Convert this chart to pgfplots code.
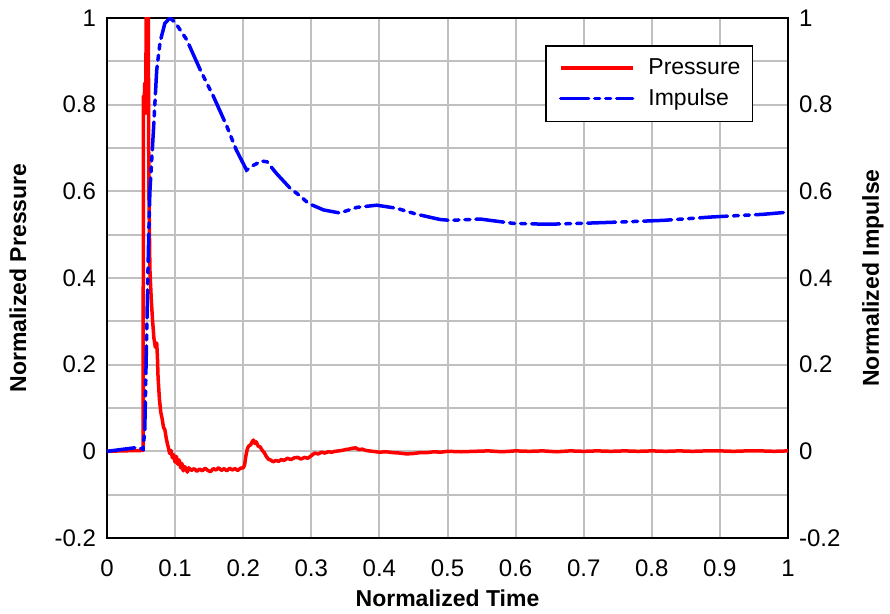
\documentclass[border=0pt]{standalone}
\usepackage{fontspec}
\setmainfont{Liberation Sans}
\usepackage{pgfplots}
\pgfplotsset{compat=1.18}
\definecolor{gridgray}{RGB}{192,192,192}
\begin{document}
\begin{tikzpicture}
\useasboundingbox (-53.5pt,-38pt) rectangle (391.5pt,269pt);
\begin{axis}[
  width=340.5pt, height=260pt, scale only axis,
  xmin=0, xmax=1, ymin=-0.2, ymax=1,
  hide x axis, axis y line*=right,
  ytick={-0.2,0,0.2,0.4,0.6,0.8,1},
  yticklabels={-0.2,0,0.2,0.4,0.6,0.8,1},
  axis line style={black, line width=0.9pt},
  major tick length=0pt,
  tick label style={font=\fontsize{12}{14}\selectfont},
  yticklabel style={xshift=2pt},
  ylabel={Normalized Impulse},
  label style={font=\bfseries\fontsize{11.5}{13}\selectfont},
  ylabel style={at={(axis description cs:1.1248,0.5)}, anchor=center},
]
\end{axis}
\begin{axis}[
  width=340.5pt, height=260pt, scale only axis,
  xmin=0, xmax=1, ymin=-0.2, ymax=1,
  xtick={0,0.1,0.2,0.3,0.4,0.5,0.6,0.7,0.8,0.9,1},
  xticklabels={0,0.1,0.2,0.3,0.4,0.5,0.6,0.7,0.8,0.9,1},
  ytick={-0.2,0,0.2,0.4,0.6,0.8,1},
  yticklabels={-0.2,0,0.2,0.4,0.6,0.8,1},
  minor ytick={-0.1,0.1,0.3,0.5,0.7,0.9},
  grid=both,
  grid style={draw=gridgray, line width=1pt},
  major grid style={draw=gridgray, line width=1pt},
  minor grid style={draw=gridgray, line width=1pt},
  axis line style={black, line width=0.9pt},
  major tick length=0pt, minor tick length=0pt,
  tick label style={font=\fontsize{12}{14}\selectfont},
  xticklabel style={yshift=-7.5pt},
  yticklabel style={xshift=-2pt},
  xlabel={Normalized Time},
  ylabel={Normalized Pressure},
  label style={font=\bfseries\fontsize{11.5}{13}\selectfont},
  xlabel style={at={(axis description cs:0.5,-0.1154)}, anchor=center},
  ylabel style={at={(axis description cs:-0.1307,0.5)}, anchor=center},
  legend style={at={(0.949,0.948)}, anchor=north east, draw=black, line width=0.8pt,
    fill=white, font=\fontsize{11.5}{13}\selectfont, inner xsep=4pt, inner ysep=4.5pt,
    row sep=1.5pt},
  legend cell align=left,
  legend image code/.code={\path (-2.5pt,0pt); \draw[#1] (0pt,0pt) -- (36pt,0pt); \path (41pt,0pt);},
]
\addplot[red, line width=1.75pt, line join=round] coordinates {
(0,0) (0.02,0.001) (0.053,0.002) (0.0535,0.82) (0.0545,0.80) (0.0555,0.85) (0.057,0.78)
(0.058,1.3) (0.060,1.3) (0.0615,0.6) (0.063,0.42) (0.065,0.35) (0.067,0.30) (0.069,0.26)
(0.071,0.24) (0.073,0.25) (0.074,0.22) (0.075,0.17) (0.077,0.12) (0.079,0.09) (0.081,0.075)
(0.083,0.055) (0.085,0.05) (0.087,0.03) (0.089,0.015)
(0.090,0.010) (0.092,-0.005) (0.094,0.002) (0.096,-0.015) (0.098,-0.008) (0.100,-0.025)
(0.102,-0.012) (0.104,-0.030) (0.106,-0.020) (0.108,-0.038) (0.110,-0.028) (0.112,-0.045)
(0.114,-0.035) (0.116,-0.040) (0.118,-0.048) (0.120,-0.038) (0.124,-0.044) (0.128,-0.040)
(0.132,-0.046) (0.136,-0.041) (0.140,-0.045) (0.144,-0.039) (0.148,-0.044) (0.152,-0.047)
(0.156,-0.040) (0.160,-0.043) (0.164,-0.038) (0.168,-0.044) (0.172,-0.040) (0.176,-0.045)
(0.180,-0.039) (0.184,-0.043) (0.188,-0.040) (0.192,-0.044) (0.196,-0.039) (0.200,-0.038)
(0.202,-0.032) (0.204,-0.010) (0.206,0.005) (0.208,0.012) (0.211,0.015) (0.213,0.022)
(0.215,0.026) (0.217,0.018) (0.219,0.022) (0.222,0.012) (0.225,0.010) (0.228,0.002)
(0.231,-0.003) (0.234,-0.012) (0.237,-0.018) (0.240,-0.020) (0.244,-0.024) (0.248,-0.021)
(0.252,-0.023) (0.256,-0.019) (0.260,-0.021) (0.265,-0.016) (0.270,-0.019) (0.275,-0.015)
(0.280,-0.014) (0.285,-0.018) (0.290,-0.014) (0.295,-0.016) (0.300,-0.010) (0.305,-0.004)
(0.310,-0.006) (0.315,-0.002) (0.320,-0.004) (0.325,-0.001) (0.330,-0.002) (0.335,0.000)
(0.340,0.001) (0.345,0.002) (0.350,0.004) (0.355,0.005) (0.360,0.007) (0.365,0.008)
(0.370,0.004) (0.375,0.005) (0.380,0.002) (0.385,0.001) (0.390,0.000) (0.400,-0.002)
(0.410,-0.001) (0.420,-0.003) (0.430,-0.004) (0.440,-0.006) (0.450,-0.005) (0.460,-0.003)
(0.470,-0.003) (0.480,-0.001) (0.490,-0.002) (0.500,0.000) (0.52,-0.001) (0.54,0.000)
(0.56,0.001) (0.58,-0.001) (0.60,0.001) (0.62,0.000) (0.64,0.001) (0.66,-0.001) (0.68,0.001)
(0.70,0.000) (0.72,0.001) (0.74,0.000) (0.76,0.001) (0.78,0.000) (0.80,0.001) (0.82,0.000)
(0.84,0.001) (0.86,0.000) (0.88,0.001) (0.90,0.001) (0.92,0.000) (0.94,0.001) (0.96,0.001)
(0.98,0.000) (1.0,0.001)
};
\addlegendentry{Pressure}
\addplot[blue, line width=1.75pt, line cap=round,
  dash pattern=on 14pt off 3pt on 2.5pt off 3pt on 2.5pt off 3pt] coordinates {
(0,0) (0.045,0.009) (0.053,0.005) (0.0555,0.05) (0.058,0.25) (0.061,0.48) (0.063,0.60)
(0.068,0.735) (0.073,0.88) (0.078,0.945) (0.085,0.988) (0.0925,1.0) (0.1,0.99) (0.117,0.95)
(0.137,0.88) (0.156,0.82) (0.176,0.75) (0.19,0.695) (0.205,0.649) (0.215,0.66) (0.227,0.67)
(0.235,0.668) (0.249,0.641) (0.269,0.607) (0.283,0.59) (0.296,0.572) (0.318,0.557)
(0.342,0.55) (0.367,0.563) (0.396,0.568) (0.425,0.561) (0.455,0.547) (0.489,0.535)
(0.504,0.533) (0.548,0.536) (0.597,0.526) (0.646,0.524) (0.695,0.526) (0.768,0.53)
(0.817,0.533) (0.89,0.541) (0.964,0.547) (1.0,0.552)
};
\addlegendentry{Impulse}
\end{axis}
\end{tikzpicture}
\end{document}
